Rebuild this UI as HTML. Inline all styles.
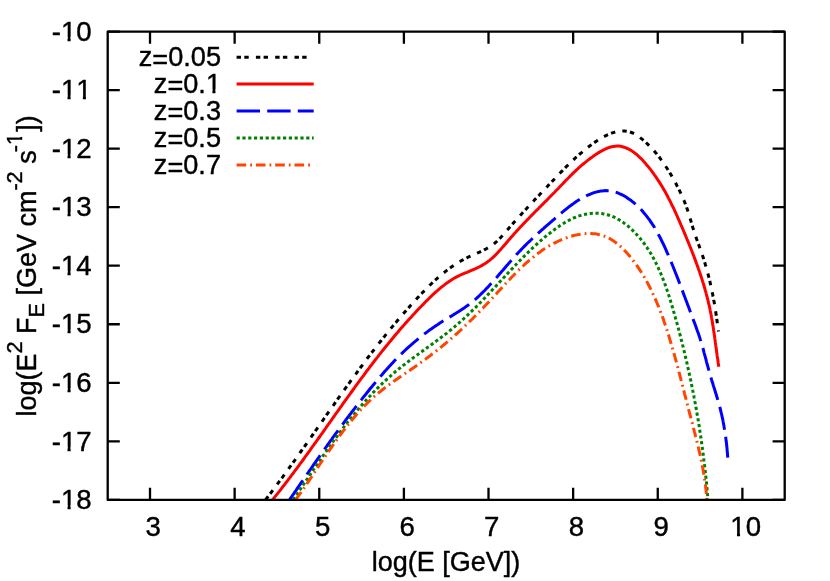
<!DOCTYPE html>
<html><head><meta charset="utf-8"><title>plot</title>
<style>html,body{margin:0;padding:0;background:#fff}svg{display:block;will-change:transform}text{font-family:"Liberation Sans",sans-serif;fill:#000;stroke:#000;stroke-width:.42px;stroke-linejoin:round;font-kerning:none}</style></head><body>
<svg width="830" height="581" viewBox="0 0 830 581">
<rect width="830" height="581" fill="#fff"/>
<defs><clipPath id="c"><rect x="107.7" y="31.55" width="677.0" height="469.34999999999997"/></clipPath></defs>
<path d="M150.01,499.9V487.80M150.01,31.55V43.65M234.64,499.9V487.80M234.64,31.55V43.65M319.26,499.9V487.80M319.26,31.55V43.65M403.89,499.9V487.80M403.89,31.55V43.65M488.51,499.9V487.80M488.51,31.55V43.65M573.14,499.9V487.80M573.14,31.55V43.65M657.76,499.9V487.80M657.76,31.55V43.65M742.39,499.9V487.80M742.39,31.55V43.65M107.7,31.55H119.80M784.7,31.55H772.60M107.7,90.09H119.80M784.7,90.09H772.60M107.7,148.64H119.80M784.7,148.64H772.60M107.7,207.18H119.80M784.7,207.18H772.60M107.7,265.72H119.80M784.7,265.72H772.60M107.7,324.27H119.80M784.7,324.27H772.60M107.7,382.81H119.80M784.7,382.81H772.60M107.7,441.36H119.80M784.7,441.36H772.60M107.7,499.90H119.80M784.7,499.90H772.60" stroke="#000" stroke-width="2.3" fill="none"/>
<text x="153.3" y="536.3" font-size="27.6" text-anchor="middle">3</text>
<text x="237.9" y="536.3" font-size="27.6" text-anchor="middle">4</text>
<text x="322.6" y="536.3" font-size="27.6" text-anchor="middle">5</text>
<text x="407.2" y="536.3" font-size="27.6" text-anchor="middle">6</text>
<text x="491.8" y="536.3" font-size="27.6" text-anchor="middle">7</text>
<text x="576.4" y="536.3" font-size="27.6" text-anchor="middle">8</text>
<text x="661.1" y="536.3" font-size="27.6" text-anchor="middle">9</text>
<text x="745.7" y="536.3" font-size="27.6" text-anchor="middle">10</text>
<rect x="731.24" y="532.53" width="5.72" height="5.18" fill="#fff"/><rect x="740.06" y="532.53" width="5.50" height="5.18" fill="#fff"/>
<text x="91.6" y="40.6" font-size="27.6" text-anchor="end">-10</text>
<rect x="61.79" y="36.83" width="5.72" height="5.18" fill="#fff"/><rect x="70.61" y="36.83" width="5.50" height="5.18" fill="#fff"/>
<text x="91.6" y="99.2" font-size="27.6" text-anchor="end">-11</text>
<rect x="61.79" y="95.43" width="5.72" height="5.18" fill="#fff"/><rect x="70.61" y="95.43" width="5.50" height="5.18" fill="#fff"/>
<rect x="77.14" y="95.43" width="5.72" height="5.18" fill="#fff"/><rect x="85.96" y="95.43" width="5.50" height="5.18" fill="#fff"/>
<text x="91.6" y="157.7" font-size="27.6" text-anchor="end">-12</text>
<rect x="61.79" y="153.93" width="5.72" height="5.18" fill="#fff"/><rect x="70.61" y="153.93" width="5.50" height="5.18" fill="#fff"/>
<text x="91.6" y="216.3" font-size="27.6" text-anchor="end">-13</text>
<rect x="61.79" y="212.53" width="5.72" height="5.18" fill="#fff"/><rect x="70.61" y="212.53" width="5.50" height="5.18" fill="#fff"/>
<text x="91.6" y="274.8" font-size="27.6" text-anchor="end">-14</text>
<rect x="61.79" y="271.03" width="5.72" height="5.18" fill="#fff"/><rect x="70.61" y="271.03" width="5.50" height="5.18" fill="#fff"/>
<text x="91.6" y="333.4" font-size="27.6" text-anchor="end">-15</text>
<rect x="61.79" y="329.63" width="5.72" height="5.18" fill="#fff"/><rect x="70.61" y="329.63" width="5.50" height="5.18" fill="#fff"/>
<text x="91.6" y="391.9" font-size="27.6" text-anchor="end">-16</text>
<rect x="61.79" y="388.13" width="5.72" height="5.18" fill="#fff"/><rect x="70.61" y="388.13" width="5.50" height="5.18" fill="#fff"/>
<text x="91.6" y="450.5" font-size="27.6" text-anchor="end">-17</text>
<rect x="61.79" y="446.73" width="5.72" height="5.18" fill="#fff"/><rect x="70.61" y="446.73" width="5.50" height="5.18" fill="#fff"/>
<text x="91.6" y="509.0" font-size="27.6" text-anchor="end">-18</text>
<rect x="61.79" y="505.23" width="5.72" height="5.18" fill="#fff"/><rect x="70.61" y="505.23" width="5.50" height="5.18" fill="#fff"/>
<text x="446" y="570.5" font-size="27" text-anchor="middle">log(E [GeV])</text>
<text transform="translate(35.5,265.9) rotate(-90)" font-size="27" text-anchor="middle">log(E<tspan dy="-13.5" font-size="21.6">2</tspan><tspan dy="13.5"> F</tspan><tspan dy="8.4" font-size="21.6">E</tspan><tspan dy="-8.4"> [GeV cm</tspan><tspan dy="-13.5" font-size="21.6">-2</tspan><tspan dy="13.5"> s</tspan><tspan dy="-13.5" dx="-1.8" font-size="21.6">-1</tspan><tspan dy="13.5" dx="1.2">])</tspan></text>
<rect x="18.8" y="132.3" width="4.8" height="4.65" fill="#fff"/><rect x="18.8" y="139.85" width="4.8" height="4.9" fill="#fff"/>
<g clip-path="url(#c)" fill="none" stroke-linejoin="round">
<path d="M265.6,499.9 L266.7,498.3 L267.9,496.8 L269.0,495.3 L270.1,493.8 L271.3,492.3 L272.4,490.8 L273.6,489.3 L274.7,487.8 L275.8,486.3 L277.0,484.7 L278.1,483.2 L279.2,481.7 L280.3,480.2 L281.4,478.6 L282.6,477.1 L283.7,475.6 L284.8,474.1 L285.9,472.5 L287.0,471.0 L288.1,469.5 L289.2,467.9 L290.3,466.4 L291.4,464.9 L292.5,463.3 L293.6,461.8 L294.7,460.3 L295.8,458.7 L296.9,457.2 L298.0,455.6 L299.1,454.1 L300.2,452.5 L301.3,451.0 L302.4,449.5 L303.5,447.9 L304.6,446.4 L305.7,444.8 L306.7,443.3 L307.8,441.7 L308.9,440.2 L310.0,438.6 L311.1,437.1 L312.2,435.5 L313.3,434.0 L314.3,432.4 L315.4,430.9 L316.5,429.4 L317.6,427.8 L318.7,426.3 L319.8,424.7 L320.8,423.2 L321.9,421.6 L323.0,420.1 L324.1,418.5 L325.2,417.0 L326.3,415.4 L327.3,413.9 L328.4,412.3 L329.5,410.8 L330.6,409.2 L331.7,407.7 L332.8,406.1 L333.9,404.6 L334.9,403.1 L336.0,401.5 L337.1,400.0 L338.2,398.4 L339.3,396.9 L340.4,395.3 L341.5,393.8 L342.6,392.3 L343.7,390.7 L344.8,389.2 L345.9,387.7 L347.0,386.1 L348.1,384.6 L349.2,383.1 L350.3,381.5 L351.4,380.0 L352.5,378.5 L353.6,376.9 L354.7,375.4 L355.9,373.9 L357.0,372.4 L358.1,370.9 L359.2,369.3 L360.3,367.8 L361.5,366.3 L362.6,364.8 L363.7,363.3 L364.8,361.8 L366.0,360.3 L367.1,358.7 L368.2,357.2 L369.4,355.7 L370.5,354.2 L371.7,352.7 L372.8,351.2 L374.0,349.7 L375.1,348.2 L376.3,346.8 L377.5,345.3 L378.6,343.8 L379.8,342.3 L381.0,340.8 L382.1,339.3 L383.3,337.8 L384.5,336.4 L385.7,334.9 L386.9,333.4 L388.0,332.0 L389.2,330.5 L390.4,329.0 L391.6,327.6 L392.8,326.1 L394.1,324.7 L395.3,323.2 L396.5,321.8 L397.7,320.3 L398.9,318.9 L400.2,317.4 L401.4,316.0 L402.6,314.6 L403.9,313.1 L405.1,311.7 L406.4,310.3 L407.6,308.9 L408.9,307.4 L410.1,306.0 L411.4,304.6 L412.7,303.2 L414.0,301.8 L415.2,300.4 L416.5,299.0 L417.8,297.6 L419.1,296.2 L420.4,294.8 L421.7,293.5 L423.0,292.1 L424.4,290.7 L425.7,289.4 L427.0,288.0 L428.4,286.7 L429.7,285.3 L431.1,284.0 L432.5,282.7 L433.8,281.4 L435.2,280.1 L436.6,278.9 L438.0,277.6 L439.5,276.4 L440.9,275.2 L442.4,273.9 L443.8,272.8 L445.3,271.6 L446.8,270.4 L448.3,269.3 L449.8,268.2 L451.3,267.1 L452.9,266.0 L454.4,265.0 L456.0,264.0 L457.6,263.0 L459.2,262.0 L460.8,261.0 L462.4,260.1 L464.1,259.2 L465.8,258.4 L467.5,257.5 L469.2,256.7 L470.9,255.9 L472.6,255.1 L474.4,254.4 L476.1,253.6 L477.8,252.8 L479.6,252.1 L481.3,251.3 L483.0,250.5 L484.6,249.6 L486.3,248.8 L487.9,247.9 L489.5,246.9 L491.0,245.9 L492.6,244.9 L494.0,243.8 L495.4,242.6 L496.8,241.4 L498.1,240.1 L499.4,238.8 L500.7,237.5 L502.0,236.1 L503.2,234.7 L504.5,233.3 L505.7,231.9 L506.9,230.4 L508.2,229.0 L509.4,227.6 L510.7,226.1 L512.0,224.7 L513.2,223.3 L514.5,221.8 L515.8,220.4 L517.1,219.0 L518.3,217.5 L519.6,216.1 L520.9,214.7 L522.2,213.3 L523.5,211.8 L524.8,210.4 L526.2,209.0 L527.5,207.6 L528.8,206.2 L530.1,204.8 L531.4,203.4 L532.7,201.9 L534.0,200.5 L535.3,199.1 L536.7,197.7 L538.0,196.3 L539.3,195.0 L540.6,193.6 L541.9,192.2 L543.2,190.8 L544.5,189.4 L545.8,188.0 L547.1,186.7 L548.4,185.3 L549.7,183.9 L551.0,182.6 L552.3,181.2 L553.6,179.9 L554.9,178.5 L556.1,177.2 L557.4,175.9 L558.7,174.5 L559.9,173.2 L561.2,171.9 L562.5,170.6 L563.8,169.2 L565.1,167.9 L566.3,166.6 L567.6,165.4 L568.9,164.1 L570.3,162.8 L571.6,161.5 L572.9,160.2 L574.3,159.0 L575.6,157.7 L577.0,156.5 L578.4,155.2 L579.8,154.0 L581.3,152.8 L582.7,151.5 L584.2,150.3 L585.7,149.1 L587.2,147.9 L588.7,146.7 L590.3,145.5 L591.9,144.4 L593.5,143.2 L595.1,142.1 L596.8,140.9 L598.5,139.9 L600.1,138.8 L601.9,137.8 L603.6,136.8 L605.3,135.9 L607.0,135.1 L608.8,134.3 L610.6,133.6 L612.3,132.9 L614.1,132.4 L615.8,131.9 L617.6,131.5 L619.4,131.2 L621.1,131.1 L622.9,131.0 L624.6,131.1 L626.3,131.2 L628.1,131.5 L629.8,132.0 L631.4,132.5 L633.1,133.2 L634.8,134.1 L636.4,135.0 L638.0,136.1 L639.6,137.2 L641.1,138.4 L642.7,139.6 L644.2,140.9 L645.6,142.2 L647.0,143.5 L648.4,144.9 L649.8,146.3 L651.2,147.6 L652.5,149.1 L653.8,150.5 L655.0,151.9 L656.3,153.4 L657.5,154.8 L658.6,156.3 L659.8,157.8 L660.9,159.4 L662.1,160.9 L663.2,162.4 L664.2,164.0 L665.3,165.6 L666.3,167.2 L667.3,168.8 L668.3,170.4 L669.3,172.0 L670.3,173.6 L671.3,175.2 L672.2,176.9 L673.1,178.5 L674.1,180.2 L675.0,181.8 L675.9,183.5 L676.7,185.2 L677.6,186.8 L678.5,188.5 L679.3,190.2 L680.1,191.9 L680.9,193.6 L681.7,195.3 L682.5,197.0 L683.2,198.7 L684.0,200.5 L684.7,202.2 L685.3,203.9 L686.0,205.6 L686.6,207.4 L687.2,209.1 L687.8,210.9 L688.3,212.6 L688.9,214.4 L689.4,216.1 L689.9,217.9 L690.5,219.7 L691.0,221.4 L691.5,223.2 L692.0,225.0 L692.6,226.8 L693.1,228.6 L693.7,230.3 L694.3,232.1 L694.9,233.9 L695.5,235.7 L696.1,237.5 L696.7,239.3 L697.4,241.1 L698.0,243.0 L698.7,244.8 L699.4,246.6 L700.0,248.4 L700.7,250.2 L701.3,252.0 L701.9,253.9 L702.6,255.7 L703.2,257.5 L703.7,259.4 L704.3,261.2 L704.9,263.0 L705.4,264.9 L706.0,266.7 L706.5,268.5 L707.0,270.4 L707.5,272.2 L708.0,274.1 L708.5,275.9 L709.0,277.8 L709.4,279.6 L709.9,281.5 L710.3,283.3 L710.7,285.1 L711.1,287.0 L711.5,288.9 L711.9,290.7 L712.3,292.6 L712.7,294.4 L713.0,296.3 L713.4,298.1 L713.7,300.0 L714.1,301.8 L714.4,303.7 L714.7,305.5 L715.0,307.4 L715.3,309.2 L715.6,311.1 L715.9,312.9 L716.1,314.8 L716.4,316.6 L716.7,318.5 L716.9,320.3 L717.2,322.2 L717.4,324.0 L717.7,325.8 L718.0,327.7 L718.2,329.5 L718.5,331.4" stroke="#000000" stroke-width="3.0" stroke-dasharray="4.4 3.3 4.4 7.2"/>
<path d="M272.5,499.9 L273.7,498.4 L274.9,496.9 L276.1,495.4 L277.3,493.9 L278.5,492.4 L279.7,490.9 L280.9,489.4 L282.0,487.8 L283.2,486.3 L284.4,484.8 L285.5,483.3 L286.7,481.8 L287.8,480.3 L289.0,478.8 L290.1,477.3 L291.3,475.7 L292.4,474.2 L293.6,472.7 L294.7,471.2 L295.8,469.7 L297.0,468.1 L298.1,466.6 L299.2,465.1 L300.3,463.5 L301.5,462.0 L302.6,460.5 L303.7,459.0 L304.8,457.4 L305.9,455.9 L307.0,454.4 L308.1,452.8 L309.2,451.3 L310.3,449.8 L311.4,448.2 L312.5,446.7 L313.6,445.2 L314.7,443.6 L315.8,442.1 L316.9,440.6 L318.0,439.0 L319.1,437.5 L320.2,436.0 L321.3,434.4 L322.4,432.9 L323.5,431.3 L324.5,429.8 L325.6,428.3 L326.7,426.7 L327.8,425.2 L328.9,423.7 L330.0,422.1 L331.1,420.6 L332.1,419.1 L333.2,417.5 L334.3,416.0 L335.4,414.4 L336.5,412.9 L337.6,411.4 L338.7,409.8 L339.7,408.3 L340.8,406.8 L341.9,405.3 L343.0,403.7 L344.1,402.2 L345.2,400.7 L346.3,399.1 L347.4,397.6 L348.5,396.1 L349.6,394.6 L350.7,393.0 L351.8,391.5 L352.9,390.0 L354.0,388.5 L355.1,386.9 L356.2,385.4 L357.3,383.9 L358.4,382.4 L359.5,380.9 L360.6,379.4 L361.7,377.9 L362.9,376.3 L364.0,374.8 L365.1,373.3 L366.2,371.8 L367.4,370.3 L368.5,368.8 L369.6,367.3 L370.8,365.8 L371.9,364.3 L373.1,362.8 L374.2,361.3 L375.4,359.8 L376.5,358.4 L377.7,356.9 L378.8,355.4 L380.0,353.9 L381.2,352.4 L382.3,350.9 L383.5,349.5 L384.7,348.0 L385.9,346.5 L387.1,345.1 L388.3,343.6 L389.5,342.1 L390.7,340.7 L391.9,339.2 L393.1,337.8 L394.3,336.3 L395.5,334.8 L396.7,333.4 L398.0,332.0 L399.2,330.5 L400.4,329.1 L401.7,327.6 L402.9,326.2 L404.2,324.8 L405.5,323.3 L406.7,321.9 L408.0,320.5 L409.3,319.1 L410.6,317.7 L411.9,316.2 L413.2,314.8 L414.5,313.4 L415.8,312.0 L417.1,310.6 L418.4,309.2 L419.7,307.8 L421.1,306.5 L422.4,305.1 L423.8,303.7 L425.1,302.3 L426.5,300.9 L427.9,299.6 L429.2,298.2 L430.6,296.9 L432.0,295.5 L433.4,294.2 L434.8,292.9 L436.2,291.6 L437.7,290.4 L439.1,289.1 L440.6,287.9 L442.0,286.7 L443.5,285.6 L445.0,284.4 L446.5,283.3 L448.0,282.3 L449.5,281.2 L451.0,280.2 L452.5,279.2 L454.1,278.3 L455.7,277.4 L457.2,276.6 L458.8,275.8 L460.4,275.0 L462.0,274.3 L463.7,273.6 L465.3,272.9 L467.0,272.3 L468.6,271.6 L470.3,270.9 L472.0,270.2 L473.8,269.5 L475.5,268.7 L477.3,267.9 L479.0,267.0 L480.8,266.1 L482.5,265.1 L484.3,264.0 L486.0,262.9 L487.6,261.8 L489.2,260.6 L490.7,259.4 L492.2,258.2 L493.5,256.9 L494.9,255.6 L496.2,254.3 L497.4,253.0 L498.7,251.6 L499.9,250.3 L501.1,248.9 L502.3,247.6 L503.5,246.2 L504.7,244.8 L505.9,243.4 L507.1,242.0 L508.3,240.6 L509.5,239.2 L510.7,237.8 L511.9,236.4 L513.2,235.0 L514.4,233.6 L515.7,232.2 L516.9,230.8 L518.2,229.4 L519.5,228.0 L520.8,226.6 L522.2,225.2 L523.5,223.8 L524.8,222.4 L526.2,221.0 L527.5,219.6 L528.9,218.2 L530.2,216.8 L531.6,215.4 L533.0,214.0 L534.4,212.6 L535.7,211.2 L537.1,209.9 L538.5,208.5 L539.8,207.1 L541.2,205.7 L542.6,204.4 L543.9,203.0 L545.3,201.6 L546.7,200.3 L548.0,198.9 L549.3,197.5 L550.7,196.2 L552.0,194.8 L553.3,193.5 L554.6,192.2 L555.9,190.8 L557.2,189.5 L558.5,188.2 L559.8,186.8 L561.0,185.5 L562.3,184.2 L563.5,182.9 L564.8,181.6 L566.0,180.3 L567.3,179.0 L568.6,177.7 L569.8,176.4 L571.1,175.2 L572.4,173.9 L573.7,172.6 L575.0,171.4 L576.3,170.1 L577.7,168.9 L579.0,167.7 L580.4,166.4 L581.8,165.2 L583.2,164.0 L584.7,162.8 L586.2,161.6 L587.7,160.4 L589.2,159.2 L590.8,158.0 L592.4,156.9 L594.0,155.7 L595.7,154.6 L597.4,153.4 L599.1,152.4 L600.9,151.3 L602.7,150.4 L604.4,149.5 L606.2,148.7 L608.0,147.9 L609.9,147.3 L611.7,146.8 L613.5,146.4 L615.3,146.2 L617.1,146.1 L618.9,146.1 L620.6,146.3 L622.4,146.7 L624.1,147.2 L625.8,147.8 L627.5,148.5 L629.2,149.4 L630.8,150.3 L632.3,151.3 L633.9,152.3 L635.4,153.5 L636.9,154.7 L638.3,156.0 L639.7,157.3 L641.1,158.6 L642.5,160.0 L643.8,161.5 L645.1,162.9 L646.3,164.4 L647.6,165.9 L648.8,167.4 L650.0,168.9 L651.2,170.4 L652.3,172.0 L653.5,173.5 L654.6,175.1 L655.7,176.6 L656.7,178.2 L657.8,179.8 L658.8,181.3 L659.8,182.9 L660.8,184.5 L661.8,186.1 L662.8,187.8 L663.7,189.4 L664.7,191.0 L665.6,192.6 L666.5,194.3 L667.4,195.9 L668.2,197.6 L669.1,199.3 L670.0,200.9 L670.8,202.6 L671.6,204.3 L672.4,206.0 L673.3,207.6 L674.1,209.3 L674.8,211.0 L675.6,212.7 L676.4,214.5 L677.2,216.2 L677.9,217.9 L678.7,219.6 L679.5,221.3 L680.2,223.1 L680.9,224.8 L681.7,226.5 L682.4,228.2 L683.2,230.0 L683.9,231.7 L684.6,233.5 L685.4,235.2 L686.1,237.0 L686.8,238.7 L687.5,240.5 L688.3,242.2 L689.0,244.0 L689.7,245.7 L690.4,247.5 L691.1,249.3 L691.8,251.0 L692.5,252.8 L693.2,254.6 L693.9,256.3 L694.5,258.1 L695.2,259.9 L695.9,261.7 L696.5,263.5 L697.2,265.2 L697.8,267.0 L698.4,268.8 L699.1,270.6 L699.7,272.4 L700.3,274.2 L700.9,276.0 L701.5,277.8 L702.1,279.6 L702.6,281.4 L703.2,283.2 L703.8,285.0 L704.3,286.8 L704.8,288.7 L705.3,290.5 L705.9,292.3 L706.3,294.1 L706.8,295.9 L707.3,297.8 L707.8,299.6 L708.2,301.4 L708.6,303.2 L709.1,305.1 L709.5,306.9 L709.9,308.8 L710.2,310.6 L710.6,312.4 L711.0,314.3 L711.3,316.1 L711.6,318.0 L712.0,319.8 L712.3,321.7 L712.6,323.5 L712.9,325.4 L713.2,327.2 L713.5,329.1 L713.7,331.0 L714.0,332.8 L714.3,334.7 L714.6,336.6 L714.8,338.4 L715.1,340.3 L715.3,342.2 L715.6,344.1 L715.8,345.9 L716.1,347.8 L716.4,349.7 L716.6,351.6 L716.9,353.5 L717.1,355.4 L717.4,357.2 L717.7,359.1 L718.0,361.0 L718.2,362.9 L718.5,364.8 L718.8,366.7" stroke="#ff0000" stroke-width="3.0"/>
<path d="M289.6,499.7 L290.6,498.2 L291.7,496.7 L292.7,495.2 L293.8,493.6 L294.8,492.1 L295.9,490.6 L296.9,489.0 L298.0,487.5 L299.0,485.9 L300.1,484.4 L301.1,482.9 L302.2,481.3 L303.3,479.8 L304.3,478.2 L305.4,476.7 L306.5,475.1 L307.5,473.6 L308.6,472.0 L309.7,470.4 L310.8,468.9 L311.9,467.3 L312.9,465.8 L314.0,464.2 L315.1,462.7 L316.2,461.1 L317.3,459.5 L318.4,458.0 L319.5,456.4 L320.6,454.9 L321.7,453.3 L322.8,451.7 L323.9,450.2 L325.0,448.6 L326.1,447.1 L327.2,445.5 L328.3,444.0 L329.4,442.4 L330.5,440.9 L331.7,439.3 L332.8,437.7 L333.9,436.2 L335.0,434.6 L336.1,433.1 L337.3,431.6 L338.4,430.0 L339.5,428.5 L340.7,426.9 L341.8,425.4 L343.0,423.8 L344.1,422.3 L345.2,420.8 L346.4,419.2 L347.5,417.7 L348.7,416.2 L349.8,414.7 L351.0,413.2 L352.1,411.6 L353.3,410.1 L354.5,408.6 L355.6,407.1 L356.8,405.6 L358.0,404.1 L359.1,402.6 L360.3,401.1 L361.5,399.6 L362.6,398.1 L363.8,396.6 L365.0,395.2 L366.2,393.7 L367.4,392.2 L368.6,390.7 L369.7,389.3 L370.9,387.8 L372.1,386.4 L373.3,384.9 L374.5,383.5 L375.7,382.0 L376.9,380.6 L378.1,379.2 L379.3,377.7 L380.5,376.3 L381.8,374.9 L383.0,373.5 L384.2,372.1 L385.4,370.7 L386.7,369.3 L387.9,367.9 L389.2,366.5 L390.4,365.2 L391.7,363.8 L393.0,362.4 L394.2,361.1 L395.5,359.7 L396.8,358.4 L398.2,357.1 L399.5,355.7 L400.8,354.4 L402.2,353.1 L403.5,351.8 L404.9,350.5 L406.3,349.2 L407.7,347.9 L409.1,346.6 L410.6,345.3 L412.0,344.1 L413.4,342.8 L414.9,341.6 L416.4,340.4 L417.9,339.1 L419.3,337.9 L420.9,336.7 L422.4,335.5 L423.9,334.4 L425.4,333.2 L426.9,332.1 L428.5,330.9 L430.0,329.8 L431.6,328.7 L433.2,327.6 L434.7,326.5 L436.3,325.4 L437.9,324.4 L439.5,323.3 L441.1,322.3 L442.7,321.3 L444.3,320.3 L445.9,319.3 L447.5,318.3 L449.1,317.4 L450.7,316.4 L452.3,315.4 L453.9,314.4 L455.5,313.5 L457.1,312.5 L458.7,311.5 L460.3,310.5 L461.8,309.5 L463.4,308.4 L464.9,307.4 L466.4,306.3 L468.0,305.2 L469.4,304.1 L470.9,302.9 L472.4,301.7 L473.8,300.5 L475.3,299.3 L476.7,298.1 L478.1,296.8 L479.5,295.5 L480.8,294.2 L482.2,292.9 L483.6,291.5 L484.9,290.2 L486.2,288.8 L487.6,287.4 L488.9,286.0 L490.2,284.6 L491.5,283.2 L492.8,281.8 L494.0,280.3 L495.3,278.9 L496.6,277.5 L497.9,276.0 L499.1,274.6 L500.4,273.1 L501.6,271.6 L502.9,270.2 L504.1,268.7 L505.4,267.3 L506.6,265.8 L507.9,264.4 L509.1,262.9 L510.4,261.5 L511.6,260.1 L512.9,258.6 L514.1,257.2 L515.4,255.8 L516.6,254.4 L517.9,253.1 L519.2,251.7 L520.5,250.4 L521.7,249.0 L523.0,247.7 L524.3,246.4 L525.6,245.1 L526.9,243.8 L528.2,242.5 L529.5,241.3 L530.9,240.0 L532.2,238.7 L533.5,237.5 L534.9,236.2 L536.2,235.0 L537.6,233.7 L539.0,232.5 L540.3,231.3 L541.7,230.0 L543.1,228.8 L544.5,227.5 L545.9,226.3 L547.3,225.1 L548.8,223.8 L550.2,222.6 L551.7,221.3 L553.1,220.1 L554.6,218.8 L556.1,217.5 L557.5,216.3 L559.0,215.0 L560.5,213.7 L562.1,212.4 L563.6,211.2 L565.1,209.9 L566.7,208.7 L568.3,207.4 L569.8,206.2 L571.4,205.0 L573.0,203.9 L574.6,202.7 L576.3,201.6 L577.9,200.6 L579.6,199.5 L581.2,198.5 L582.9,197.6 L584.6,196.7 L586.3,195.8 L588.0,195.0 L589.8,194.3 L591.5,193.6 L593.3,192.9 L595.0,192.4 L596.8,191.9 L598.6,191.5 L600.4,191.1 L602.2,190.9 L604.0,190.7 L605.8,190.6 L607.5,190.7 L609.3,190.8 L611.1,191.1 L612.9,191.4 L614.6,191.9 L616.3,192.4 L618.1,193.0 L619.8,193.8 L621.5,194.5 L623.2,195.4 L624.8,196.3 L626.4,197.3 L628.0,198.4 L629.6,199.5 L631.2,200.6 L632.7,201.8 L634.2,203.0 L635.6,204.3 L637.0,205.6 L638.4,206.9 L639.8,208.3 L641.1,209.6 L642.4,211.0 L643.6,212.5 L644.8,213.9 L646.0,215.4 L647.2,216.9 L648.3,218.4 L649.5,219.9 L650.5,221.5 L651.6,223.0 L652.6,224.6 L653.7,226.2 L654.7,227.8 L655.6,229.5 L656.6,231.1 L657.5,232.8 L658.4,234.5 L659.3,236.1 L660.2,237.8 L661.1,239.5 L661.9,241.3 L662.8,243.0 L663.6,244.7 L664.4,246.4 L665.2,248.2 L666.0,249.9 L666.7,251.7 L667.5,253.4 L668.3,255.2 L669.0,257.0 L669.8,258.7 L670.5,260.5 L671.2,262.2 L672.0,264.0 L672.7,265.7 L673.4,267.5 L674.1,269.3 L674.8,271.0 L675.5,272.8 L676.2,274.5 L676.9,276.3 L677.6,278.1 L678.3,279.8 L678.9,281.6 L679.6,283.3 L680.3,285.1 L681.0,286.9 L681.6,288.6 L682.3,290.4 L683.0,292.2 L683.6,293.9 L684.3,295.7 L685.0,297.5 L685.6,299.2 L686.3,301.0 L687.0,302.8 L687.6,304.6 L688.3,306.3 L689.0,308.1 L689.6,309.9 L690.3,311.7 L691.0,313.4 L691.6,315.2 L692.3,317.0 L693.0,318.8 L693.6,320.6 L694.3,322.3 L695.0,324.1 L695.6,325.9 L696.3,327.7 L696.9,329.5 L697.5,331.3 L698.2,333.0 L698.8,334.8 L699.4,336.6 L700.0,338.4 L700.5,340.2 L701.1,342.0 L701.6,343.8 L702.2,345.6 L702.7,347.4 L703.2,349.2 L703.7,351.0 L704.1,352.8 L704.6,354.6 L705.1,356.4 L705.6,358.2 L706.1,360.0 L706.5,361.8 L707.0,363.6 L707.5,365.4 L708.0,367.2 L708.5,369.0 L709.0,370.8 L709.5,372.6 L710.0,374.4 L710.5,376.3 L711.1,378.1 L711.6,379.9 L712.2,381.7 L712.8,383.5 L713.3,385.4 L713.9,387.2 L714.5,389.0 L715.0,390.8 L715.6,392.7 L716.2,394.5 L716.7,396.3 L717.3,398.2 L717.8,400.0 L718.3,401.8 L718.9,403.7 L719.4,405.5 L719.9,407.3 L720.3,409.2 L720.8,411.0 L721.2,412.9 L721.7,414.7 L722.1,416.6 L722.5,418.4 L722.9,420.3 L723.2,422.1 L723.6,424.0 L723.9,425.8 L724.2,427.7 L724.5,429.6 L724.8,431.4 L725.1,433.3 L725.4,435.1 L725.7,437.0 L725.9,438.9 L726.1,440.8 L726.4,442.6 L726.6,444.5 L726.8,446.4 L727.0,448.3 L727.1,450.1 L727.3,452.0 L727.5,453.9 L727.6,455.8 L727.8,457.7" stroke="#0000ff" stroke-width="3.0" stroke-dasharray="23.4 7.2"/>
<path d="M293.1,499.8 L294.1,498.3 L295.2,496.7 L296.2,495.2 L297.3,493.7 L298.3,492.2 L299.3,490.6 L300.4,489.1 L301.4,487.5 L302.5,486.0 L303.5,484.5 L304.5,482.9 L305.6,481.4 L306.6,479.8 L307.7,478.3 L308.7,476.7 L309.8,475.2 L310.8,473.6 L311.9,472.1 L312.9,470.5 L314.0,468.9 L315.1,467.4 L316.1,465.8 L317.2,464.3 L318.2,462.7 L319.3,461.2 L320.4,459.6 L321.4,458.1 L322.5,456.5 L323.6,455.0 L324.7,453.4 L325.8,451.9 L326.9,450.3 L327.9,448.8 L329.0,447.2 L330.1,445.7 L331.2,444.2 L332.3,442.6 L333.4,441.1 L334.6,439.6 L335.7,438.0 L336.8,436.5 L337.9,435.0 L339.1,433.5 L340.2,431.9 L341.3,430.4 L342.5,428.9 L343.6,427.4 L344.8,425.9 L345.9,424.4 L347.1,422.9 L348.2,421.4 L349.4,420.0 L350.6,418.5 L351.8,417.0 L353.0,415.6 L354.2,414.1 L355.4,412.6 L356.6,411.2 L357.8,409.7 L359.0,408.3 L360.2,406.9 L361.5,405.5 L362.7,404.0 L363.9,402.6 L365.2,401.2 L366.5,399.8 L367.7,398.4 L369.0,397.0 L370.3,395.7 L371.6,394.3 L372.8,392.9 L374.1,391.6 L375.5,390.3 L376.8,388.9 L378.1,387.6 L379.4,386.3 L380.8,385.0 L382.1,383.7 L383.5,382.4 L384.8,381.1 L386.2,379.8 L387.6,378.6 L389.0,377.3 L390.4,376.1 L391.8,374.8 L393.2,373.6 L394.6,372.4 L396.0,371.2 L397.5,370.0 L398.9,368.8 L400.4,367.7 L401.9,366.5 L403.3,365.3 L404.8,364.2 L406.3,363.0 L407.8,361.9 L409.3,360.8 L410.8,359.7 L412.3,358.5 L413.8,357.4 L415.3,356.3 L416.8,355.2 L418.3,354.1 L419.8,353.0 L421.4,351.9 L422.9,350.8 L424.4,349.7 L425.9,348.6 L427.4,347.5 L429.0,346.4 L430.5,345.3 L432.0,344.2 L433.5,343.1 L435.0,342.0 L436.5,340.9 L438.0,339.8 L439.5,338.6 L441.0,337.5 L442.5,336.4 L444.0,335.2 L445.5,334.1 L447.0,333.0 L448.4,331.8 L449.9,330.6 L451.3,329.5 L452.8,328.3 L454.2,327.1 L455.6,325.9 L457.1,324.7 L458.5,323.4 L459.9,322.2 L461.3,321.0 L462.7,319.7 L464.0,318.5 L465.4,317.2 L466.8,315.9 L468.1,314.6 L469.5,313.3 L470.8,312.0 L472.2,310.7 L473.5,309.4 L474.8,308.1 L476.2,306.8 L477.5,305.5 L478.8,304.1 L480.1,302.8 L481.4,301.4 L482.7,300.1 L484.0,298.7 L485.3,297.4 L486.6,296.0 L487.9,294.6 L489.2,293.3 L490.5,291.9 L491.8,290.5 L493.1,289.1 L494.3,287.8 L495.6,286.4 L496.9,285.0 L498.2,283.6 L499.5,282.2 L500.8,280.8 L502.0,279.5 L503.3,278.1 L504.6,276.7 L505.9,275.3 L507.2,273.9 L508.5,272.5 L509.8,271.2 L511.1,269.8 L512.4,268.4 L513.7,267.0 L515.0,265.7 L516.3,264.3 L517.6,262.9 L518.9,261.6 L520.2,260.2 L521.6,258.9 L522.9,257.5 L524.2,256.2 L525.6,254.8 L526.9,253.5 L528.3,252.2 L529.6,250.9 L531.0,249.5 L532.4,248.2 L533.8,246.9 L535.2,245.7 L536.6,244.4 L538.0,243.1 L539.4,241.8 L540.8,240.6 L542.2,239.4 L543.7,238.1 L545.1,236.9 L546.6,235.7 L548.1,234.5 L549.6,233.3 L551.0,232.2 L552.6,231.0 L554.1,229.9 L555.6,228.8 L557.1,227.7 L558.7,226.6 L560.2,225.5 L561.8,224.5 L563.4,223.5 L565.0,222.5 L566.6,221.6 L568.3,220.7 L569.9,219.8 L571.6,219.0 L573.2,218.2 L574.9,217.5 L576.6,216.8 L578.3,216.1 L580.1,215.6 L581.8,215.1 L583.6,214.6 L585.4,214.2 L587.2,213.9 L589.0,213.6 L590.8,213.4 L592.7,213.3 L594.5,213.2 L596.3,213.2 L598.2,213.3 L600.0,213.4 L601.8,213.6 L603.6,213.9 L605.4,214.3 L607.2,214.7 L609.0,215.2 L610.7,215.8 L612.5,216.5 L614.2,217.2 L615.8,218.0 L617.5,218.9 L619.1,219.8 L620.7,220.8 L622.3,221.8 L623.8,222.9 L625.4,224.0 L626.9,225.2 L628.3,226.4 L629.8,227.7 L631.2,229.0 L632.6,230.3 L633.9,231.6 L635.3,233.0 L636.6,234.4 L637.8,235.8 L639.1,237.2 L640.3,238.6 L641.5,240.1 L642.6,241.5 L643.8,243.0 L644.9,244.5 L645.9,246.1 L647.0,247.6 L648.0,249.2 L649.0,250.7 L650.0,252.3 L651.0,253.9 L651.9,255.5 L652.9,257.1 L653.8,258.8 L654.6,260.4 L655.5,262.1 L656.3,263.8 L657.2,265.5 L658.0,267.1 L658.7,268.9 L659.5,270.6 L660.3,272.3 L661.0,274.0 L661.7,275.8 L662.4,277.5 L663.1,279.3 L663.8,281.0 L664.5,282.8 L665.1,284.6 L665.8,286.4 L666.4,288.2 L667.0,290.0 L667.6,291.8 L668.2,293.6 L668.8,295.4 L669.4,297.2 L669.9,299.0 L670.5,300.8 L671.1,302.7 L671.6,304.5 L672.1,306.3 L672.7,308.1 L673.2,310.0 L673.7,311.8 L674.3,313.6 L674.8,315.4 L675.3,317.3 L675.8,319.1 L676.3,320.9 L676.8,322.7 L677.3,324.6 L677.8,326.4 L678.3,328.2 L678.8,330.0 L679.2,331.9 L679.7,333.7 L680.2,335.5 L680.7,337.3 L681.1,339.1 L681.6,341.0 L682.1,342.8 L682.5,344.6 L683.0,346.4 L683.4,348.3 L683.9,350.1 L684.3,351.9 L684.7,353.7 L685.2,355.5 L685.6,357.4 L686.0,359.2 L686.5,361.0 L686.9,362.8 L687.3,364.7 L687.7,366.5 L688.1,368.3 L688.5,370.1 L688.9,372.0 L689.3,373.8 L689.7,375.6 L690.1,377.4 L690.5,379.3 L690.9,381.1 L691.2,382.9 L691.6,384.8 L692.0,386.6 L692.4,388.4 L692.7,390.2 L693.1,392.1 L693.4,393.9 L693.8,395.7 L694.1,397.6 L694.5,399.4 L694.8,401.2 L695.2,403.1 L695.5,404.9 L695.8,406.7 L696.2,408.6 L696.5,410.4 L696.8,412.2 L697.1,414.1 L697.4,415.9 L697.8,417.8 L698.1,419.6 L698.4,421.5 L698.7,423.3 L699.0,425.1 L699.3,427.0 L699.5,428.8 L699.8,430.7 L700.1,432.5 L700.4,434.4 L700.7,436.2 L700.9,438.1 L701.2,439.9 L701.5,441.8 L701.7,443.6 L702.0,445.5 L702.3,447.4 L702.5,449.2 L702.8,451.1 L703.0,452.9 L703.2,454.8 L703.5,456.7 L703.7,458.5 L703.9,460.4 L704.2,462.3 L704.4,464.1 L704.6,466.0 L704.8,467.9 L705.0,469.8 L705.3,471.6 L705.5,473.5 L705.7,475.4 L705.9,477.3 L706.1,479.2 L706.3,481.1 L706.5,482.9 L706.6,484.8 L706.8,486.7 L707.0,488.6 L707.2,490.5 L707.4,492.4 L707.5,494.3 L707.7,496.2 L707.9,498.1 L708.0,500.0" stroke="#008000" stroke-width="3.0" stroke-dasharray="3.2 2.6"/>
<path d="M295.6,499.8 L296.6,498.4 L297.6,497.0 L298.6,495.7 L299.6,494.3 L300.6,492.9 L301.6,491.4 L302.6,490.0 L303.6,488.6 L304.6,487.2 L305.6,485.7 L306.5,484.3 L307.5,482.8 L308.5,481.4 L309.5,479.9 L310.5,478.4 L311.5,477.0 L312.5,475.5 L313.5,474.0 L314.5,472.5 L315.4,471.0 L316.4,469.5 L317.4,468.0 L318.4,466.5 L319.4,465.0 L320.4,463.5 L321.4,462.0 L322.4,460.5 L323.4,459.0 L324.4,457.5 L325.5,456.0 L326.5,454.5 L327.5,453.0 L328.5,451.6 L329.5,450.1 L330.6,448.6 L331.6,447.1 L332.6,445.6 L333.7,444.1 L334.7,442.6 L335.8,441.1 L336.8,439.7 L337.9,438.2 L339.0,436.7 L340.0,435.2 L341.1,433.8 L342.2,432.3 L343.3,430.9 L344.4,429.5 L345.5,428.0 L346.6,426.6 L347.7,425.2 L348.8,423.8 L350.0,422.4 L351.1,421.0 L352.3,419.6 L353.4,418.2 L354.6,416.8 L355.7,415.5 L356.9,414.1 L358.1,412.8 L359.3,411.4 L360.5,410.1 L361.7,408.8 L363.0,407.5 L364.2,406.2 L365.4,405.0 L366.7,403.7 L367.9,402.5 L369.2,401.2 L370.5,400.0 L371.8,398.8 L373.1,397.6 L374.4,396.4 L375.7,395.3 L377.1,394.1 L378.4,393.0 L379.8,391.9 L381.1,390.8 L382.5,389.7 L383.9,388.6 L385.3,387.5 L386.7,386.5 L388.1,385.4 L389.5,384.4 L391.0,383.3 L392.4,382.3 L393.8,381.3 L395.3,380.3 L396.7,379.3 L398.2,378.3 L399.6,377.2 L401.1,376.2 L402.5,375.2 L404.0,374.2 L405.5,373.2 L406.9,372.2 L408.4,371.2 L409.9,370.2 L411.3,369.2 L412.8,368.2 L414.3,367.2 L415.7,366.2 L417.2,365.2 L418.6,364.1 L420.1,363.1 L421.5,362.0 L423.0,361.0 L424.4,359.9 L425.9,358.9 L427.3,357.8 L428.7,356.7 L430.2,355.6 L431.6,354.5 L433.0,353.5 L434.4,352.4 L435.8,351.3 L437.3,350.1 L438.7,349.0 L440.1,347.9 L441.4,346.8 L442.8,345.6 L444.2,344.5 L445.6,343.4 L447.0,342.2 L448.3,341.1 L449.7,339.9 L451.0,338.7 L452.4,337.6 L453.7,336.4 L455.0,335.2 L456.4,334.0 L457.7,332.9 L459.0,331.7 L460.3,330.5 L461.6,329.3 L462.9,328.0 L464.2,326.8 L465.4,325.6 L466.7,324.4 L468.0,323.2 L469.2,321.9 L470.5,320.7 L471.8,319.5 L473.0,318.2 L474.2,317.0 L475.5,315.7 L476.7,314.5 L478.0,313.2 L479.2,311.9 L480.4,310.7 L481.6,309.4 L482.9,308.1 L484.1,306.8 L485.3,305.6 L486.5,304.3 L487.7,303.0 L489.0,301.7 L490.2,300.4 L491.4,299.1 L492.6,297.8 L493.8,296.5 L495.0,295.2 L496.2,293.9 L497.4,292.5 L498.6,291.2 L499.8,289.9 L501.1,288.6 L502.3,287.3 L503.5,285.9 L504.7,284.6 L505.9,283.3 L507.2,282.0 L508.4,280.7 L509.6,279.4 L510.9,278.1 L512.1,276.8 L513.4,275.5 L514.6,274.2 L515.9,272.9 L517.1,271.7 L518.4,270.4 L519.7,269.2 L521.0,267.9 L522.3,266.7 L523.6,265.5 L524.9,264.2 L526.2,263.0 L527.6,261.9 L528.9,260.7 L530.3,259.5 L531.6,258.4 L533.0,257.3 L534.4,256.1 L535.8,255.0 L537.2,254.0 L538.6,252.9 L540.1,251.9 L541.5,250.8 L543.0,249.8 L544.5,248.8 L546.0,247.9 L547.5,246.9 L549.0,246.0 L550.6,245.1 L552.1,244.3 L553.7,243.4 L555.3,242.6 L556.9,241.8 L558.6,241.0 L560.2,240.3 L561.9,239.6 L563.6,238.9 L565.3,238.2 L567.0,237.6 L568.7,237.0 L570.4,236.5 L572.1,236.0 L573.9,235.5 L575.6,235.1 L577.4,234.7 L579.2,234.4 L580.9,234.1 L582.7,233.9 L584.4,233.7 L586.2,233.6 L587.9,233.5 L589.7,233.5 L591.4,233.6 L593.2,233.7 L594.9,233.8 L596.6,234.1 L598.3,234.4 L599.9,234.7 L601.6,235.2 L603.2,235.7 L604.8,236.3 L606.3,236.9 L607.9,237.6 L609.4,238.4 L610.9,239.3 L612.4,240.2 L613.8,241.1 L615.2,242.1 L616.6,243.2 L618.0,244.3 L619.3,245.4 L620.7,246.6 L622.0,247.8 L623.3,249.1 L624.5,250.4 L625.8,251.7 L627.0,253.1 L628.2,254.4 L629.4,255.8 L630.5,257.2 L631.7,258.6 L632.8,260.1 L633.9,261.5 L635.0,263.0 L636.0,264.4 L637.1,265.9 L638.1,267.4 L639.1,268.9 L640.1,270.4 L641.1,271.9 L642.0,273.4 L643.0,275.0 L643.9,276.5 L644.8,278.0 L645.7,279.6 L646.5,281.1 L647.4,282.7 L648.2,284.3 L649.1,285.9 L649.9,287.5 L650.7,289.1 L651.5,290.7 L652.3,292.3 L653.0,293.9 L653.8,295.5 L654.5,297.1 L655.2,298.7 L655.9,300.4 L656.6,302.0 L657.3,303.7 L658.0,305.3 L658.7,307.0 L659.3,308.6 L660.0,310.3 L660.6,312.0 L661.2,313.6 L661.9,315.3 L662.5,317.0 L663.1,318.6 L663.7,320.3 L664.2,322.0 L664.8,323.7 L665.4,325.4 L666.0,327.1 L666.5,328.8 L667.1,330.4 L667.6,332.1 L668.1,333.8 L668.7,335.5 L669.2,337.2 L669.7,338.9 L670.2,340.6 L670.7,342.3 L671.2,344.0 L671.7,345.7 L672.2,347.4 L672.7,349.1 L673.2,350.8 L673.7,352.5 L674.2,354.2 L674.6,355.9 L675.1,357.6 L675.6,359.3 L676.1,361.0 L676.5,362.7 L677.0,364.4 L677.4,366.1 L677.9,367.9 L678.3,369.6 L678.8,371.3 L679.2,373.0 L679.7,374.7 L680.1,376.4 L680.6,378.1 L681.0,379.8 L681.5,381.6 L681.9,383.3 L682.3,385.0 L682.8,386.7 L683.2,388.4 L683.7,390.1 L684.1,391.9 L684.5,393.6 L685.0,395.3 L685.4,397.0 L685.9,398.7 L686.3,400.5 L686.7,402.2 L687.2,403.9 L687.6,405.6 L688.1,407.4 L688.5,409.1 L689.0,410.8 L689.4,412.5 L689.9,414.3 L690.3,416.0 L690.8,417.7 L691.2,419.5 L691.7,421.2 L692.2,422.9 L692.6,424.7 L693.1,426.4 L693.5,428.1 L694.0,429.9 L694.4,431.6 L694.9,433.3 L695.3,435.1 L695.7,436.8 L696.2,438.5 L696.6,440.3 L697.0,442.0 L697.5,443.8 L697.9,445.5 L698.3,447.2 L698.7,449.0 L699.1,450.7 L699.5,452.5 L699.9,454.2 L700.3,455.9 L700.7,457.7 L701.0,459.4 L701.4,461.2 L701.8,462.9 L702.1,464.7 L702.4,466.4 L702.8,468.2 L703.1,469.9 L703.4,471.7 L703.7,473.4 L704.0,475.2 L704.3,476.9 L704.5,478.7 L704.8,480.4 L705.0,482.2 L705.3,483.9 L705.5,485.7 L705.7,487.4 L705.9,489.2 L706.1,490.9 L706.3,492.7 L706.4,494.4 L706.6,496.2 L706.7,498.0 L706.8,499.7" stroke="#ff4500" stroke-width="3.0" stroke-dasharray="9.6 4 1.8 3.9"/>
</g>
<rect x="107.7" y="31.55" width="677.0" height="468.34999999999997" fill="none" stroke="#000" stroke-width="2.3" stroke-linejoin="round"/>
<text x="221" y="66.3" font-size="27.15" text-anchor="end">z<tspan dy="2.3">=</tspan><tspan dy="-2.3">0.05</tspan></text>
<path d="M236.6,57.25H313.7" stroke="#000000" stroke-width="3.0" fill="none" stroke-dasharray="4.4 3.3 4.4 7.2"/>
<text x="221" y="93.1" font-size="27.15" text-anchor="end">z<tspan dy="2.3">=</tspan><tspan dy="-2.3">0.1</tspan></text>
<rect x="206.76" y="89.36" width="5.64" height="5.15" fill="#fff"/><rect x="215.46" y="89.36" width="5.43" height="5.15" fill="#fff"/>
<path d="M236.6,84.05H313.7" stroke="#ff0000" stroke-width="3.0" fill="none"/>
<text x="221" y="120.1" font-size="27.15" text-anchor="end">z<tspan dy="2.3">=</tspan><tspan dy="-2.3">0.3</tspan></text>
<path d="M236.6,111.0H313.7" stroke="#0000ff" stroke-width="3.0" fill="none" stroke-dasharray="23.4 7.2"/>
<text x="221" y="147.1" font-size="27.15" text-anchor="end">z<tspan dy="2.3">=</tspan><tspan dy="-2.3">0.5</tspan></text>
<path d="M236.6,138.0H313.7" stroke="#008000" stroke-width="3.0" fill="none" stroke-dasharray="3.2 2.6"/>
<text x="221" y="174.2" font-size="27.15" text-anchor="end">z<tspan dy="2.3">=</tspan><tspan dy="-2.3">0.7</tspan></text>
<path d="M236.6,165.05H313.7" stroke="#ff4500" stroke-width="3.0" fill="none" stroke-dasharray="9.6 4 1.8 3.9"/>
</svg></body></html>
